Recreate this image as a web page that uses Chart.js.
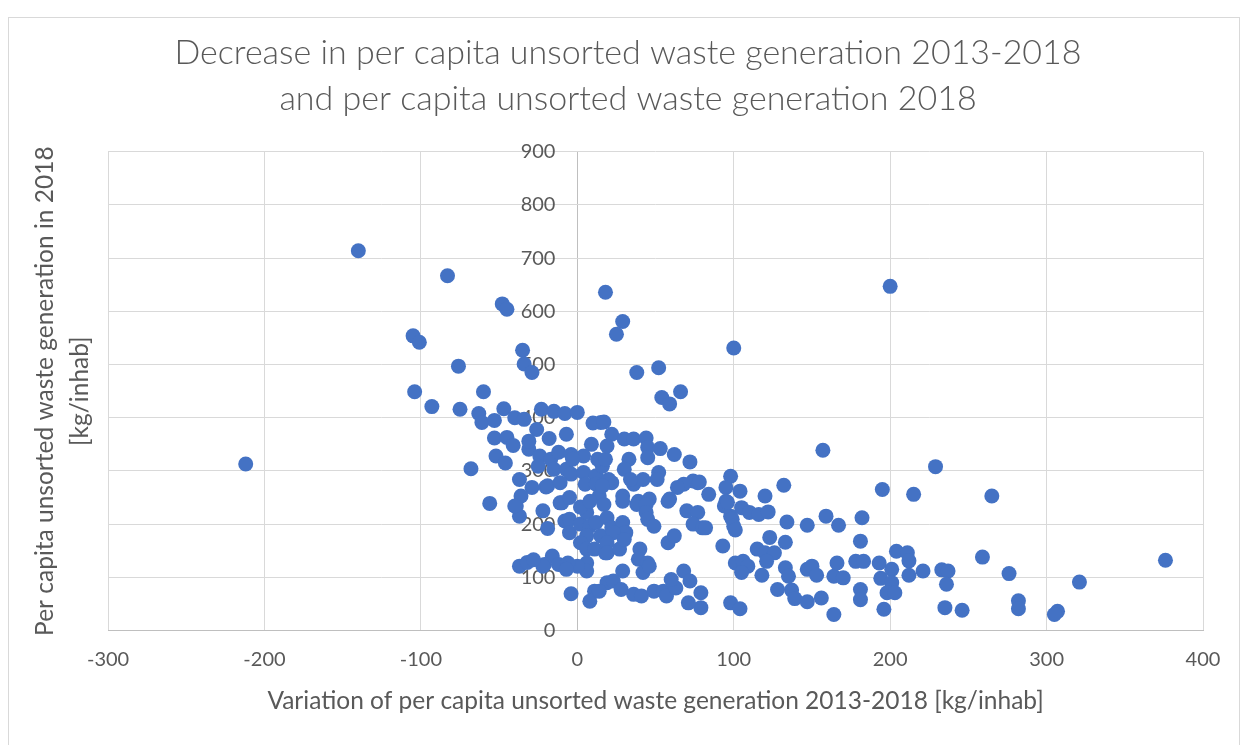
<!DOCTYPE html>
<html>
<head>
<meta charset="utf-8">
<script src="https://cdn.jsdelivr.net/npm/chart.js@4/dist/chart.umd.min.js"></script>
<style>
  html, body { margin: 0; padding: 0; background: #fff; }
  #wrap { position: relative; width: 1245px; height: 745px; }
</style>
</head>
<body>
<div id="wrap"><canvas id="chartWaste"></canvas></div>
<script>
// Variacao 2013-2018 (x) e geracao per capita 2018 (y), ponto a ponto
const variation = [
  -212, -140, -83, -48, -45, -105, -101, -76, -104, -93, -75, -60, -63, -61, -53, -47,
  -35, -34, -29, -40, -34, -23, -15, -8, 0, -53, -45, -41, -31, -26, -31, -18, -7,
  -52, -46, -68, -37, -29, -20, -36, -39, -37, -22, -19, -10, -8, -56, -40,
  -24, -17, -12, -4, 4, 9, 15, 10, -25, -15, -7, -4, 4, 12, 16, -19, -11, 5, 12, 14,
  -11, -5, -5, -5, 2, 6, 8, 6, 12, 15, 2, 6, 11, 18, 6, 6, 0, -16, -21, -12, -6, -7,
  -4, 11, 8, 19, 2, 8, -22, -37, -32, -28, -3, 13, 22, 36, 77, 98,
  18, 29, 25, 38, 52, 54, 59, 66, 100, 200,
  17, 22, 30, 36, 44, 45, 53, 62, 72, 45, 33, 30, 18, 19, 52, 51, 42, 34, 20, 16,
  74, 68, 64, 84, 98, 95, 59, 46, 39, 29, 95, 17, 29, 38, 44, 58, 70, 77, 74, 80,
  44, 45, 49, 19, 22, 29, 31, 23, 19, 19, 27, 30, 58, 62, 93, 40, 39, 45, 42, 46,
  29, 23, 28, 36, 41, 49, 55, 57, 63, 60, 68, 72, 79, 79, 71, 14, 98, 104,
  157, 229, 195, 215, 132, 120, 104, 78, 94, 96, 105, 110, 116, 122, 99, 100, 101, 82,
  134, 147, 159, 167, 182, 181, 123, 133, 115, 120, 126, 121, 101, 106, 109, 105, 118,
  133, 135, 128, 137, 139, 147, 150, 153, 164, 166, 170, 147, 156, 164,
  178, 183, 193, 194, 201, 204, 211, 212, 212, 221, 233, 237, 236, 181, 181, 196, 235,
  246, 201, 198, 203, 265, 259, 376, 276, 321, 282, 282, 307, 305
];
const waste2018 = [
  313, 714, 667, 614, 604, 554, 542, 497, 449, 421, 416, 449, 408, 391, 395, 417,
  527, 501, 485, 400, 397, 416, 412, 408, 410, 362, 363, 348, 341, 378, 356, 361, 369,
  328, 315, 304, 284, 269, 270, 253, 234, 215, 225, 192, 240, 206, 239, 234,
  328, 322, 335, 331, 328, 350, 391, 390, 309, 303, 303, 294, 297, 291, 309, 272, 278, 275, 275, 253,
  240, 250, 209, 184, 200, 222, 196, 178, 203, 178, 165, 153, 153, 146, 127, 112, 121, 140, 124, 124, 127, 115,
  69, 74, 55, 90, 232, 243, 121, 121, 128, 133, 322, 322, 278, 275, 278, 215,
  636, 581, 557, 485, 494, 438, 426, 449, 531, 647,
  392, 369, 360, 360, 362, 344, 342, 331, 317, 325, 322, 303, 322, 347, 297, 284, 284, 284, 284, 272,
  281, 275, 269, 256, 290, 269, 247, 247, 243, 253, 243, 237, 243, 237, 237, 243, 225, 222, 200, 193,
  222, 209, 196, 212, 193, 203, 184, 184, 165, 146, 153, 171, 165, 178, 159, 153, 134, 127, 109, 121,
  112, 93, 77, 68, 65, 74, 74, 65, 80, 96, 112, 93, 71, 43, 52, 74, 52, 41,
  339, 308, 265, 256, 273, 253, 262, 279, 234, 241, 231, 222, 218, 223, 209, 196, 189, 193,
  204, 198, 215, 198, 212, 168, 175, 166, 153, 146, 146, 130, 127, 130, 121, 109, 104,
  118, 102, 77, 76, 60, 115, 121, 104, 102, 127, 99, 54, 61, 30,
  130, 130, 127, 98, 115, 149, 146, 131, 104, 112, 114, 112, 87, 77, 58, 40, 43,
  38, 90, 71, 71, 253, 138, 132, 107, 91, 56, 41, 36, 30
];

const xTicks = { min: -300, max: 400, step: 100 };
const yTicks = { min: 0, max: 900, step: 100 };

const chartTitle = ['Decrease in per capita unsorted waste generation 2013-2018', 'and per capita unsorted waste generation 2018'];
const xTitle = 'Variation of per capita unsorted waste generation 2013-2018 [kg/inhab]';
const yTitle = ['Per capita unsorted waste generation in 2018', '[kg/inhab]'];

const pontos = variation.map((v, i) => ({ x: v, y: waste2018[i] }));

const cinzaTexto = '#595959';
const cinzaGrade = '#d9d9d9';
const cinzaEixo = '#bfbfbf';

// moldura clara em volta do grafico, como no Excel
const moldura = {
  id: 'moldura',
  beforeDraw(chart) {
    const ctx = chart.ctx;
    ctx.save();
    ctx.fillStyle = '#ffffff';
    ctx.fillRect(0, 0, chart.width, chart.height);
    ctx.strokeStyle = cinzaGrade;
    ctx.lineWidth = 1;
    ctx.strokeRect(8.5, 17.5, 1231, 760);
    ctx.restore();
  }
};

const ctx = document.getElementById('chartWaste').getContext('2d');
new Chart(ctx, {
  type: 'scatter',
  data: {
    datasets: [{
      label: 'Municipalities',
      data: pontos,
      backgroundColor: '#4472C4',
      borderColor: '#4472C4',
      borderWidth: 0,
      pointRadius: 7.5,
      pointHoverRadius: 7.5
    }]
  },
  options: {
    responsive: true,
    maintainAspectRatio: false,
    animation: false,
    // padding esquerdo maior so para centrar o titulo como no original
    layout: { padding: { top: 30, left: 53, right: 42, bottom: 10 } },
    plugins: {
      legend: { display: false },
      tooltip: { enabled: false },
      title: {
        display: true,
        text: chartTitle,
        color: cinzaTexto,
        font: { family: 'Lato', size: 34, weight: 300, lineHeight: 1.35 },
        padding: { top: 0, bottom: 30 }
      }
    },
    scales: {
      x: {
        type: 'linear',
        min: xTicks.min,
        max: xTicks.max,
        grid: {
          // a linha do zero faz de eixo vertical
          color: (c) => (c.tick && c.tick.value === 0 ? cinzaEixo : cinzaGrade),
          drawTicks: false
        },
        border: { color: cinzaEixo },
        ticks: {
          stepSize: xTicks.step,
          color: cinzaTexto,
          padding: 17,
          font: { family: 'Lato', size: 20 }
        },
        title: {
          display: true,
          text: xTitle,
          color: cinzaTexto,
          font: { family: 'Lato', size: 24.5, lineHeight: 1 },
          padding: { top: 0, bottom: 22 }
        }
      },
      y: {
        type: 'linear',
        position: 'left',
        min: yTicks.min,
        max: yTicks.max,
        grid: { color: cinzaGrade, drawTicks: false },
        border: { display: false },
        ticks: { stepSize: yTicks.step, display: false },
        title: {
          display: true,
          text: yTitle,
          color: cinzaTexto,
          font: { family: 'Lato', size: 24.5, lineHeight: 1.43 },
          padding: { top: -25.5, bottom: 10.5 }
        }
      },
      yZero: {
        type: 'linear',
        axis: 'y',
        position: { x: -14 },
        min: yTicks.min,
        max: yTicks.max,
        grid: { display: false, drawTicks: false },
        border: { display: false },
        ticks: {
          stepSize: yTicks.step,
          color: cinzaTexto,
          font: { family: 'Lato', size: 20 }
        }
      }
    }
  },
  plugins: [moldura]
});
</script>
</body>
</html>
